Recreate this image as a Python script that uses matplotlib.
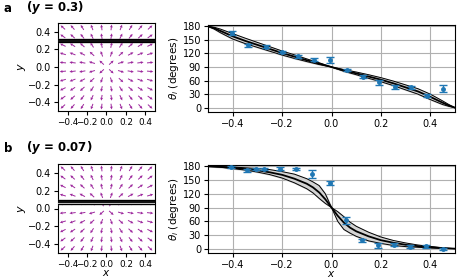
import matplotlib
matplotlib.use('Agg')
import matplotlib.pyplot as plt
import numpy as np

# ---- data ----
# panel a (y = 0.3)
a_y0 = 0.3
a_band = [0.28, 0.32]
a_px = [-0.404, -0.337, -0.266, -0.201, -0.136, -0.071, -0.005, 0.061, 0.126, 0.193, 0.258, 0.323, 0.388, 0.452]
a_pt = [165, 138, 135, 123, 114, 106, 105, 84, 69, 56, 46, 45, 27, 42]
a_pe = [5, 4, 3, 3, 3, 3, 7, 2, 3, 5, 4, 3, 3, 8]
a_cx = [-0.5, -0.475, -0.45, -0.4, -0.35, -0.3, -0.25, -0.2, -0.15, -0.1, -0.05, 0.0,
        0.05, 0.1, 0.15, 0.2, 0.25, 0.3, 0.35, 0.4, 0.45, 0.475, 0.5]
a_mid = [180, 176, 170, 158, 148, 139, 130, 121, 113, 105, 97.5, 90,
         82.5, 76, 69, 62, 54, 45, 36, 24, 11, 5, 0]
a_hi = [180, 178, 174, 164, 154, 144.5, 135, 125.5, 117, 108, 99.5, 90,
        80.5, 73, 65, 57.5, 49, 39.5, 30, 18, 7, 3, 0]
a_lo = [180, 174, 166, 152, 142, 133.5, 125, 116.5, 109, 102, 95.5, 90,
        84.5, 79, 73, 66.5, 59, 50.5, 42, 30, 15, 7, 0]

# panel b (y = 0.07)
b_y0 = 0.07
b_band = [0.05, 0.09]
b_px = [-0.405, -0.341, -0.307, -0.273, -0.208, -0.143, -0.077, -0.008, 0.057, 0.122, 0.19, 0.253, 0.318, 0.383, 0.45]
b_pt = [178, 171, 174, 174, 175, 174, 163, 143, 62, 18, 7, 9, 4.5, 5, 0]
b_pe = [2, 3, 3, 3, 3, 3, 8, 4, 8, 3, 5, 3, 3, 3, 2]
b_cx = [-0.5, -0.45, -0.4, -0.35, -0.3, -0.25, -0.2, -0.15, -0.1, -0.075, -0.05, -0.025, 0.0,
        0.025, 0.05, 0.075, 0.1, 0.15, 0.2, 0.25, 0.3, 0.35, 0.4, 0.45, 0.5]
b_mid = [180, 179, 177, 174.5, 171.5, 167, 161.5, 153, 142, 134, 123, 108, 90,
         72, 57, 46, 38, 27, 18.5, 13, 8.5, 5.5, 3, 1, 0]
b_hi = [180, 179.5, 178.5, 177, 175.5, 173, 168.5, 163, 153, 146, 138, 120, 90,
        60, 42, 34, 27, 17, 11.5, 7, 4.5, 3, 1.5, 0.5, 0]
b_lo = [180, 178, 175, 172, 167.5, 162, 154.5, 144, 131, 122, 110, 99, 90,
        81, 70, 58, 49, 36, 25.5, 18, 12.5, 8, 5, 2, 0]

grid_pos = [-0.45, -0.35, -0.25, -0.15, -0.05, 0.05, 0.15, 0.25, 0.35, 0.45]

plt.rcParams['font.size'] = 7

fig = plt.figure(figsize=(4.58, 2.8), dpi=100)
W, H = 458.0, 280.0


def box(l, t, r, b):
    return [l / W, 1 - b / H, (r - l) / W, (b - t) / H]


def field(ax, band, y0):
    X, Y = np.meshgrid(grid_pos, grid_pos)
    R = np.hypot(X, Y)
    ax.quiver(X, Y, X / R, Y / R, pivot='mid', color='#8b008b', angles='xy',
              scale_units='xy', scale=1 / 0.065, width=0.010,
              headwidth=3, headlength=3, headaxislength=2.7, alpha=0.85)
    ax.axhspan(band[0], band[1], color='lightgray', zorder=3)
    ax.axhline(band[0], color='k', lw=0.9, zorder=4)
    ax.axhline(y0, color='k', lw=1.3, zorder=4)
    ax.axhline(band[1], color='k', lw=0.9, zorder=4)
    ax.set_xlim(-0.5, 0.5)
    ax.set_ylim(-0.5, 0.5)
    ax.set_xticks([-0.4, -0.2, 0.0, 0.2, 0.4])
    ax.set_yticks([-0.4, -0.2, 0.0, 0.2, 0.4])
    ax.tick_params(length=3, pad=2)
    ax.tick_params(axis='x', labelsize=6.4)
    ax.set_ylabel(r'$y$', fontsize=8, labelpad=0)


def angles(ax, cx, mid, hi, lo, px, pt, pe):
    ax.fill_between(cx, lo, hi, color='lightgray', zorder=2)
    ax.plot(cx, hi, color='k', lw=0.7, zorder=3)
    ax.plot(cx, lo, color='k', lw=0.7, zorder=3)
    ax.plot(cx, mid, color='k', lw=1.3, zorder=3)
    ax.errorbar(px, pt, yerr=pe, fmt='o', ms=2.5, color='#1f77b4',
                capsize=3, elinewidth=1, capthick=1, zorder=4)
    ax.set_xlim(-0.5, 0.5)
    ax.set_ylim(-9.5, 183)
    ax.set_yticks([0, 30, 60, 90, 120, 150, 180])
    ax.set_xticks([-0.4, -0.2, 0.0, 0.2, 0.4])
    ax.grid(True, color='#b0b0b0', lw=0.8, zorder=0)
    ax.set_axisbelow(True)
    ax.tick_params(length=3, pad=2)
    ax.set_ylabel(r'$\theta_i$ (degrees)', fontsize=7.5, labelpad=1)


ax1 = fig.add_axes(box(58, 23, 155, 111))
field(ax1, a_band, a_y0)
ax2 = fig.add_axes(box(208, 25, 455, 112))
angles(ax2, a_cx, a_mid, a_hi, a_lo, a_px, a_pt, a_pe)

ax3 = fig.add_axes(box(58, 164, 155, 253))
field(ax3, b_band, b_y0)
ax3.set_xlabel(r'$x$', fontsize=7.5, labelpad=-1)
ax4 = fig.add_axes(box(208, 165, 455, 253))
angles(ax4, b_cx, b_mid, b_hi, b_lo, b_px, b_pt, b_pe)
ax4.set_xlabel(r'$x$', fontsize=7.5, labelpad=-1)

fig.text(4 / W, 1 - 8 / H, 'a', fontsize=8.5, weight='bold', va='center')
fig.text(26 / W, 1 - 8 / H, r'($\boldsymbol{y}$ = 0.3)', fontsize=8.5, weight='bold', va='center')
fig.text(4 / W, 1 - 148 / H, 'b', fontsize=8.5, weight='bold', va='center')
fig.text(26 / W, 1 - 148 / H, r'($\boldsymbol{y}$ = 0.07)', fontsize=8.5, weight='bold', va='center')

fig.savefig('out.png', dpi=100)
